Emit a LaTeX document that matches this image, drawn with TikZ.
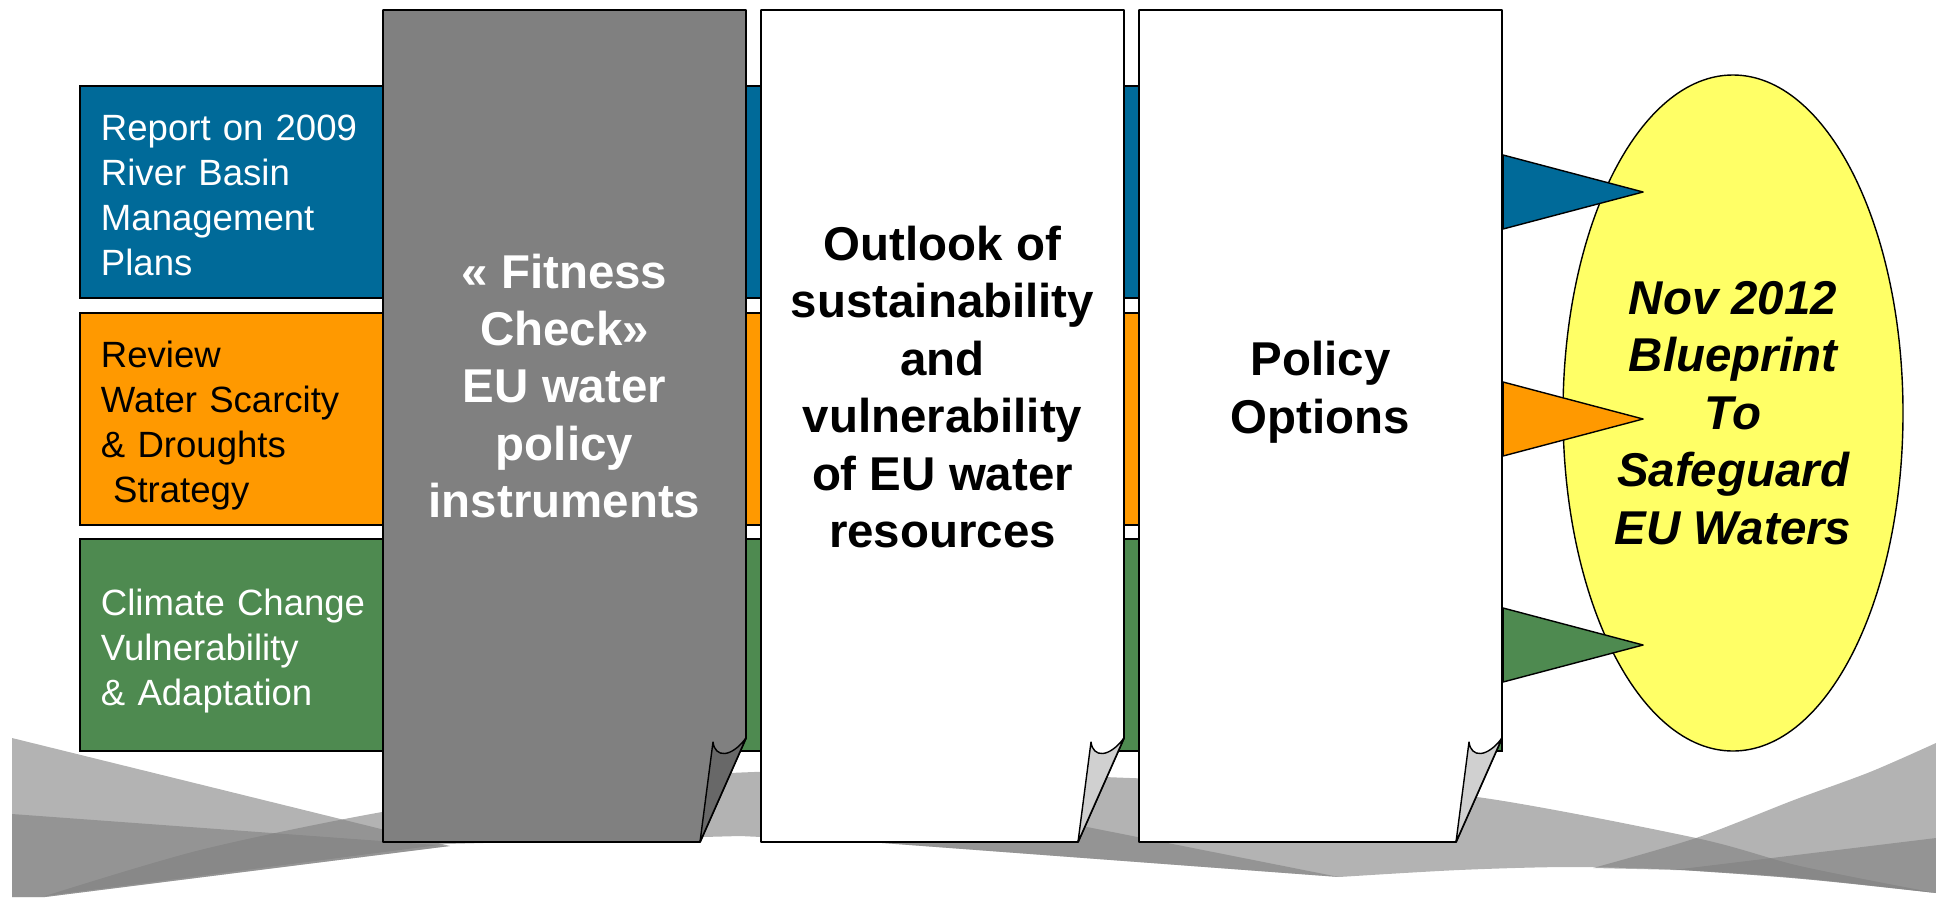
\documentclass[tikz,border=0pt]{standalone}
\usepackage{fontspec}
\setmainfont{Liberation Sans}
\usepackage{tikz}
\usetikzlibrary{shapes.geometric,calc}
\usepackage{xcolor}
\definecolor{rbmpblue}{HTML}{006A99}
\definecolor{wsdorange}{HTML}{FF9900}
\definecolor{ccvgreen}{HTML}{4E8A50}
\definecolor{goalyellow}{HTML}{FFFF66}
\definecolor{fitgray}{HTML}{808080}
\definecolor{fitflap}{HTML}{686868}
\definecolor{paperflap}{HTML}{D0D0D0}

\begin{document}
\begin{tikzpicture}[x=0.2mm,y=-0.2mm,
	  every node/.style={align=center,draw=none},
	  bar/.style={draw=black,line width=1.2pt,minimum height=42.4mm,text width=276mm,inner xsep=4.2mm,inner ysep=0pt,align=left,font=\fontsize{20.8}{25.6}\selectfont,
	    execute at begin node={\rule{0pt}{22.7pt}},execute at end node={\rule[-5pt]{0pt}{5pt}}},
	  sheet/.style={draw=black,line width=1.1pt,line join=round},
	  flap/.style={draw=black,line width=0.8pt,line join=round},
	  sheettext/.style={font=\fontsize{27}{32.7}\selectfont\bfseries},
	  wave/.style={fill=black!50,fill opacity=0.6},
	  goal/.style={ellipse,draw=black,line width=0.8pt,fill=goalyellow,minimum width=68mm,minimum height=135.2mm,inner sep=0pt,font=\fontsize{27}{32.7}\selectfont\bfseries\itshape},
	  flag/.style={draw=black,line width=0.8pt,line join=round}]

	  \useasboundingbox (0,0) rectangle (1936,897);

	  % grey waves at the bottom
	  \fill[wave] (12,738) -- (450,846) -- (45,897) -- (12,897) -- cycle;
	  \fill[wave] (12,814) -- (450,846) -- (45,897) -- (12,897) -- cycle;
	  \fill[wave] plot[smooth] coordinates {(45,896) (200,850) (382,812) (560,786) (730,773) (900,770) (1130,778) (1300,785) (1477,797) (1696,838) (1800,866) (1936,893)}
	    -- plot[smooth] coordinates {(1936,893) (1800,878) (1682,870) (1571,867) (1459,870) (1339,877)}
	    -- (869,842) -- (740,836) -- (446,844) -- cycle;
	  \fill[wave] (800,770) -- (1339,877) -- (869,842) -- (800,838) -- cycle;
	  \fill[wave] plot[smooth] coordinates {(1593,868) (1696,838) (1794,800) (1870,772) (1936,743)}
	    -- (1936,893) .. controls (1800,878) .. (1682,870) -- cycle;
	  \fill[wave] (1673,870) -- (1936,838) -- (1936,893) .. controls (1800,878) .. (1682,870) -- cycle;

	  % the three inputs
	  \node[bar,fill=rbmpblue,text=white] (rbmp) at (791,192) {Report on 2009\\ River Basin\\ Management\\ Plans};
	  \node[bar,fill=wsdorange] (wsd) at (791,419) {Review\\ Water Scarcity\\ \& Droughts\\ ~Strategy};
	  \node[bar,fill=ccvgreen,text=white] (ccv) at (791,645) {Climate Change\\ Vulnerability\\ \& Adaptation};

	  \node[goal] (blueprint) at (1733,413) {Nov 2012\\ Blueprint\\ To\\ Safeguard\\ EU Waters};

	  % sheets with a curled corner
	  \filldraw[sheet,fill=fitgray] (383,10) -- (746,10) -- (746,738) -- (700,842) -- (383,842) -- cycle;
	  \filldraw[flap,fill=fitflap] (713,742) .. controls (715,758) and (731,758) .. (746,738) -- (700,842) -- cycle;
	  \filldraw[sheet,fill=white] (761,10) -- (1124,10) -- (1124,738) -- (1078,842) -- (761,842) -- cycle;
	  \filldraw[flap,fill=paperflap] (1091,742) .. controls (1093,758) and (1109,758) .. (1124,738) -- (1078,842) -- cycle;
	  \filldraw[sheet,fill=white] (1139,10) -- (1502,10) -- (1502,738) -- (1456,842) -- (1139,842) -- cycle;
	  \filldraw[flap,fill=paperflap] (1469,742) .. controls (1471,758) and (1487,758) .. (1502,738) -- (1456,842) -- cycle;

	  \node[sheettext,text=white] (fitness) at (564.5,386) {« Fitness\\ Check»\\ EU water\\ policy\\ instruments};
	  \node[sheettext] (outlook) at (942.5,387) {Outlook of\\ sustainability\\ and\\ vulnerability\\ of EU water\\ resources};
	  \node[sheettext] (options) at (1320.5,392) {Policy\\ Options};

	  % flags pointing into the blueprint
	  \filldraw[flag,fill=rbmpblue] (rbmp.east) ++(0,-37) -- ++(140,37) -- ++(-140,37) -- cycle;
	  \filldraw[flag,fill=wsdorange] (wsd.east) ++(0,-37) -- ++(140,37) -- ++(-140,37) -- cycle;
	  \filldraw[flag,fill=ccvgreen] (ccv.east) ++(0,-37) -- ++(140,37) -- ++(-140,37) -- cycle;

\end{tikzpicture}
\end{document}
